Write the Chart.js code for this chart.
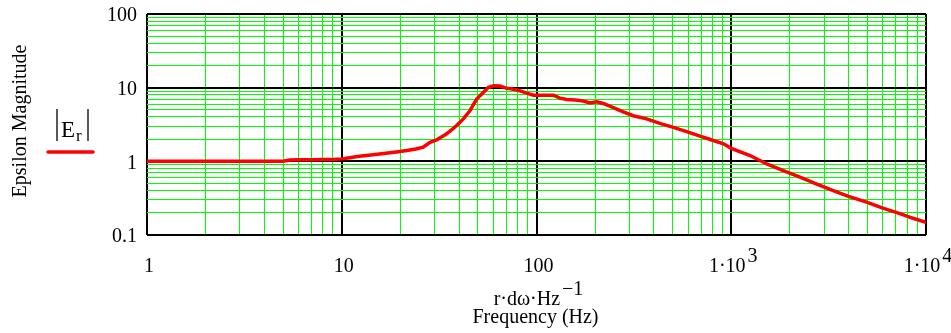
<!DOCTYPE html>
<html>
<head>
<meta charset="utf-8">
<script src="https://cdn.jsdelivr.net/npm/chart.js@4.4.1/dist/chart.umd.min.js"></script>
<style>
  html, body { margin: 0; padding: 0; background: #fff; }
  #wrap { position: relative; width: 951px; height: 333px; }
</style>
</head>
<body>
<div id="wrap"><canvas id="c" width="951" height="333"></canvas></div>
<script>
// ---- data ----
const frequency = [1, 2, 3, 4, 5, 5.4, 6, 7, 8, 9, 10, 11, 12, 13, 14.5, 16, 17.7, 19.5, 21.6, 24, 26.2, 28.4, 30.7, 32, 34, 36, 38.9, 42.1, 45.6, 49.3, 53.3, 56.7, 60, 65, 70.3, 75, 79.3, 84, 89, 96.5, 105, 113, 122, 132, 143, 158, 174, 188, 204, 220, 248, 279, 314, 368, 430, 504, 591, 691, 809, 912, 1000, 1250, 1521, 1850, 2254, 2750, 3340, 4000, 4955, 6000, 7350, 8500, 10000];
const epsilonMag = [1.0, 1.0, 1.0, 1.0, 1.0, 1.04, 1.05, 1.05, 1.06, 1.06, 1.08, 1.12, 1.16, 1.19, 1.23, 1.27, 1.31, 1.35, 1.40, 1.47, 1.56, 1.81, 1.95, 2.09, 2.3, 2.57, 3.07, 3.77, 4.9, 7.0, 8.6, 10.1, 10.6, 10.5, 9.8, 9.6, 9.3, 8.9, 8.45, 7.9, 7.9, 7.9, 7.9, 7.2, 6.9, 6.8, 6.6, 6.2, 6.45, 6.1, 5.35, 4.7, 4.16, 3.77, 3.28, 2.89, 2.53, 2.2, 1.92, 1.73, 1.5, 1.2, 0.92, 0.75, 0.61, 0.49, 0.40, 0.335, 0.279, 0.232, 0.195, 0.170, 0.149];
const xTickValues = [1, 10, 100, 1000, 10000];
const xTickLabels = ['1', '10', '100', '1\u00B710^3', '1\u00B710^4'];
const yTickValues = [0.1, 1, 10, 100];
const yTickLabels = ['0.1', '1', '10', '100'];
const xTitleLine1 = 'r\u00B7d\u03C9\u00B7Hz^\u22121';
const xTitleLine2 = 'Frequency (Hz)';
const yTitle = 'Epsilon Magnitude';
const legendMain = 'E';
const legendSub = 'r';

const FONT = "'Liberation Serif', 'Times New Roman', serif";

function logTicks(min, max) {
  const out = [];
  for (let e = Math.round(Math.log10(min)); e < Math.round(Math.log10(max)); e++) {
    for (let s = 1; s <= 9; s++) out.push({ value: parseFloat((s * Math.pow(10, e)).toPrecision(6)) });
  }
  out.push({ value: max });
  return out;
}
function isMajor(v) {
  const l = Math.log10(v);
  return Math.abs(l - Math.round(l)) < 1e-9;
}

function drawSup(ctx, text, x, y, align, size) {
  const parts = text.split('^');
  ctx.font = size + 'px ' + FONT;
  const w0 = ctx.measureText(parts[0]).width;
  const w1 = parts[1] ? ctx.measureText(parts[1]).width : 0;
  const gap = parts[1] ? 2 : 0;
  const total = w0 + gap + w1;
  let x0 = x;
  if (align === 'center') x0 = x - total / 2;
  else if (align === 'right') x0 = x - total;
  ctx.textAlign = 'left';
  ctx.textBaseline = 'alphabetic';
  ctx.fillText(parts[0], x0, y);
  if (parts[1]) ctx.fillText(parts[1], x0 + w0 + gap, y - 10);
}

const textPlugin = {
  id: 'texts',
  afterDraw(chart) {
    const ctx = chart.ctx;
    const xs = chart.scales.x, ys = chart.scales.y;
    ctx.save();
    ctx.fillStyle = '#000';
    ctx.font = '20px ' + FONT;
    ctx.textAlign = 'right';
    ctx.textBaseline = 'middle';
    yTickValues.forEach((v, i) => {
      ctx.fillText(yTickLabels[i], xs.left - 10, ys.getPixelForValue(v) + 2);
    });
    xTickValues.forEach((v, i) => {
      drawSup(ctx, xTickLabels[i], xs.getPixelForValue(v) + 2, ys.bottom + 37, 'center', 20);
    });
    const cx = (xs.left + xs.right) / 2;
    drawSup(ctx, xTitleLine1, cx + 2, ys.bottom + 70, 'center', 20);
    ctx.font = '20px ' + FONT;
    ctx.textAlign = 'center';
    ctx.textBaseline = 'alphabetic';
    ctx.fillText(xTitleLine2, cx - 1, ys.bottom + 88);
    ctx.save();
    ctx.translate(26, 121);
    ctx.rotate(-Math.PI / 2);
    ctx.textAlign = 'center';
    ctx.textBaseline = 'alphabetic';
    ctx.font = '20px ' + FONT;
    ctx.fillText(yTitle, 0, 0);
    ctx.restore();
    const ds = chart.data.datasets[0];
    ctx.strokeStyle = ds.borderColor;
    ctx.lineWidth = 3.5;
    ctx.lineCap = 'round';
    ctx.beginPath();
    ctx.moveTo(48, 152);
    ctx.lineTo(93, 152);
    ctx.stroke();
    ctx.strokeStyle = '#000';
    ctx.lineWidth = 1.3;
    ctx.lineCap = 'butt';
    ctx.beginPath();
    ctx.moveTo(57, 109); ctx.lineTo(57, 141);
    ctx.moveTo(88, 109); ctx.lineTo(88, 141);
    ctx.stroke();
    ctx.font = '23px ' + FONT;
    ctx.textAlign = 'left';
    ctx.fillText(legendMain, 61, 137);
    const we = ctx.measureText(legendMain).width;
    ctx.font = '17px ' + FONT;
    ctx.fillText(legendSub, 61 + we + 1, 141);
    ctx.restore();
  }
};

new Chart(document.getElementById('c'), {
  type: 'line',
  data: {
    datasets: [{
      label: '|Er|',
      data: frequency.map((f, i) => ({ x: f, y: epsilonMag[i] })),
      borderColor: '#ff0000',
      borderWidth: 3.5,
      pointRadius: 0,
      tension: 0,
      fill: false
    }]
  },
  options: {
    responsive: false,
    animation: false,
    devicePixelRatio: 1,
    layout: { padding: { left: 147, top: 14, right: 25, bottom: 98 } },
    plugins: { legend: { display: false }, tooltip: { enabled: false } },
    scales: {
      x: {
        type: 'logarithmic',
        min: 1, max: 10000,
        afterBuildTicks: s => { s.ticks = logTicks(1, 10000); },
        ticks: { display: false },
        border: { display: false },
        grid: {
          drawTicks: false,
          color: c => isMajor(c.tick.value) ? '#000' : '#00ff00',
          lineWidth: c => isMajor(c.tick.value) ? 2 : 1
        }
      },
      y: {
        type: 'logarithmic',
        min: 0.1, max: 100,
        afterBuildTicks: s => { s.ticks = logTicks(0.1, 100); },
        ticks: { display: false },
        border: { display: false },
        grid: {
          drawTicks: false,
          color: c => isMajor(c.tick.value) ? '#000' : '#00ff00',
          lineWidth: c => isMajor(c.tick.value) ? 2 : 1
        }
      }
    }
  },
  plugins: [textPlugin]
});
</script>
</body>
</html>
